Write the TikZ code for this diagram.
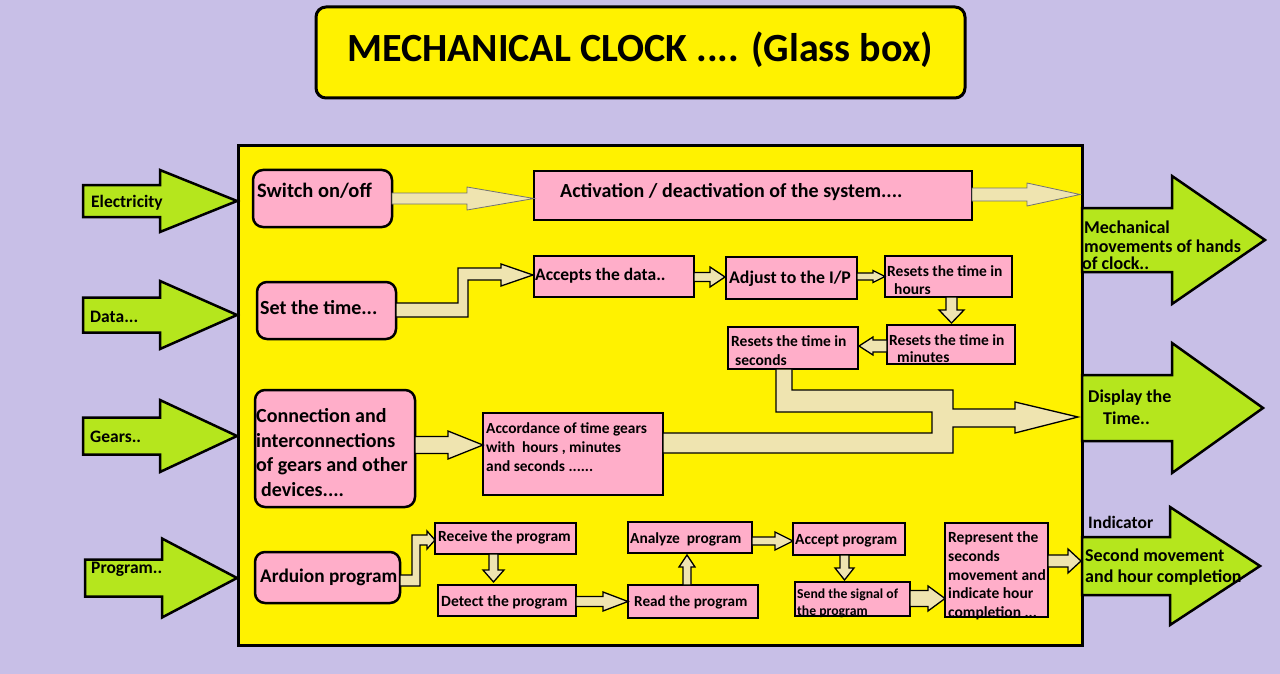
\documentclass[tikz,border=0pt]{standalone}
\usepackage{fontspec}
\setmainfont{Carlito}
\usetikzlibrary{fit}
\definecolor{lav}{HTML}{C8BFE7}
\definecolor{yel}{HTML}{FFF200}
\definecolor{pnk}{HTML}{FFAEC9}
\definecolor{grn}{HTML}{B5E61D}
\definecolor{bge}{HTML}{EFE4B0}
\newcommand\fsz[1]{\fontsize{#1}{#1}\selectfont\bfseries}
% horizontal block arrow: style, x0, xhead, xtip, yc, shaft half, head half
\newcommand\blkR[7]{\draw[#1] (#2,#5-#6) -- (#3,#5-#6) -- (#3,#5-#7) -- (#4,#5) -- (#3,#5+#7) -- (#3,#5+#6) -- (#2,#5+#6) -- cycle;}
% vertical block arrow: style, y0, yhead, ytip, xc, shaft half, head half
\newcommand\blkV[7]{\draw[#1] (#5-#6,#2) -- (#5-#6,#3) -- (#5-#7,#3) -- (#5,#4) -- (#5+#7,#3) -- (#5+#6,#3) -- (#5+#6,#2) -- cycle;}
\tikzset{
  pbox/.style={draw=black, line width=2.5pt, fill=pnk, inner sep=0pt},
  rbox/.style={pbox, rounded corners=10pt},
  garrow/.style={draw=black, line width=2.5pt, fill=grn, line join=miter},
  barrow/.style={draw=black, line width=1.3pt, fill=bge},
  tarrow/.style={draw=black!55, line width=0.8pt, fill=bge},
  lbl/.style={inner sep=0pt, anchor=base west, text=black},
}
\begin{document}
\begin{tikzpicture}[x=1pt,y=-1pt]
\useasboundingbox (0,0) rectangle (1280,674);
\fill[lav] (0,0) rectangle (1280,674);

% title
\node[draw=black, line width=3pt, fill=yel, rounded corners=10pt, inner sep=0pt,
      fit={(316,7) (965,98)}] (title) {};
\node[font=\fsz{40}, inner sep=0pt] (ttl) at (640,50) {MECHANICAL CLOCK .... (Glass box)};

% main glass box
\node[draw=black, line width=3pt, fill=yel, inner sep=0pt, fit={(238,146) (1082,645)}] (main) {};

% input arrows
\blkR{garrow}{83}{160}{237}{201}{16}{31}
\blkR{garrow}{83}{160}{237}{315}{17.5}{34}
\blkR{garrow}{83}{160}{237}{436}{18.5}{36}
\blkR{garrow}{85}{162}{237}{578}{18.5}{39.5}
% output arrows
\blkR{garrow}{1082}{1172}{1265}{240}{32}{64}
\blkR{garrow}{1082}{1172}{1263}{408}{33}{65}
\blkR{garrow}{1082}{1170}{1260}{566}{29}{59}

% boxes
\node[rbox, fit={(253,170) (392,227)}] (sw) {};
\node[pbox, fit={(534,171) (972,220)}] (act) {};
\node[rbox, fit={(257,282) (396,339)}] (set) {};
\node[pbox, fit={(534,256) (694,297)}] (acc) {};
\node[pbox, fit={(726,257) (857,299)}] (adj) {};
\node[pbox, fit={(885,256) (1012,297)}] (hrs) {};
\node[pbox, fit={(887,325) (1015,364)}] (mins) {};
\node[pbox, fit={(728,327) (858,369)}] (secs) {};
\node[rbox, fit={(255,390) (415,507)}] (conn) {};
\node[pbox, fit={(483,413) (663,495)}] (accd) {};
\node[rbox, fit={(255,552) (400,603)}] (ard) {};
\node[pbox, fit={(435,523) (576,554)}] (rcv) {};
\node[pbox, fit={(438,585) (576,616)}] (det) {};
\node[pbox, fit={(628,585) (758,618)}] (rd) {};
\node[pbox, fit={(628,522) (752,553)}] (anl) {};
\node[pbox, fit={(793,523) (905,555)}] (acp) {};
\node[pbox, fit={(795,582) (910,616)}] (snd) {};
\node[pbox, fit={(945,523) (1048,617)}] (rep) {};

% beige connectors
\blkR{tarrow}{392}{467}{534}{198.5}{5.5}{11.5}
\blkR{tarrow}{972}{1027}{1080}{194.5}{6.5}{11.5}
\draw[barrow] (396,303) -- (458,303) -- (458,268) -- (501,268) -- (501,264) -- (533,275)
  -- (501,286) -- (501,280) -- (468,280) -- (468,317) -- (396,317) -- cycle;
\blkR{barrow}{694}{710}{725}{277}{4.5}{10}
\blkR{barrow}{857}{873}{885}{276.5}{3.5}{6}
\blkV{barrow}{297}{310}{323}{951.5}{5.5}{12.5}
\blkR{barrow}{887}{873}{859}{346}{6}{9}
\draw[barrow] (776,369) -- (776,412) -- (932,412) -- (932,433) -- (663,433) -- (663,453)
  -- (953,453) -- (953,427) -- (1015,427) -- (1015,433) -- (1078,417) -- (1015,402)
  -- (1015,409) -- (953,409) -- (953,390) -- (792,390) -- (792,369) -- cycle;
\blkR{barrow}{415}{448}{483}{445}{8.5}{14}
\draw[barrow] (400,575) -- (412,575) -- (412,535) -- (427,535) -- (427,531) -- (435,540)
  -- (427,549) -- (427,545) -- (420,545) -- (420,586) -- (400,586) -- cycle;
\blkV{barrow}{554}{570}{582}{493.5}{4.5}{10.5}
\blkR{barrow}{576}{603}{628}{601.5}{5}{9.5}
\blkV{barrow}{585}{567}{555}{687}{4}{8}
\blkR{barrow}{752}{775}{793}{541}{4}{9}
\blkV{barrow}{555}{568}{580}{844.5}{4.5}{9.5}
\blkR{barrow}{910}{928}{945}{598.5}{8}{12.5}
\blkR{barrow}{1048}{1068}{1081}{561}{6}{12}

% labels: inputs
\node[lbl, font=\fsz{17.5}] (lel) at (91,207) {Electricity};
\node[lbl, font=\fsz{17.5}] (lda) at (90,322) {Data...};
\node[lbl, font=\fsz{17.5}] (lge) at (90,442) {Gears..};
\node[lbl, font=\fsz{17.5}] (lpr) at (91,573) {Program..};
% labels: outputs
\node[lbl, font=\fsz{18}] (lm1) at (1084,233) {Mechanical};
\node[lbl, font=\fsz{18}] (lm2) at (1084,252) {movements of hands};
\node[lbl, font=\fsz{18}] (lm3) at (1082,269) {of clock..};
\node[lbl, font=\fsz{18}] (ld1) at (1088,402) {Display the};
\node[lbl, font=\fsz{18}] (ld2) at (1103,424) {Time..};
\node[lbl, font=\fsz{17.5}] (li0) at (1088,528) {Indicator};
\node[lbl, font=\fsz{18}] (li1) at (1085,561) {Second movement};
\node[lbl, font=\fsz{18}] (li2) at (1085,582) {and hour completion};

% labels: inner boxes
\node[lbl, font=\fsz{20.5}] (tsw) at (257,197) {Switch on/off};
\node[lbl, font=\fsz{20}] (tact) at (560,197) {Activation / deactivation of the system....};
\node[lbl, font=\fsz{20}] (tset) at (260,314) {Set the time...};
\node[lbl, font=\fsz{17.5}] (tacc) at (535,280) {Accepts the data..};
\node[lbl, font=\fsz{17.8}] (tadj) at (729,283) {Adjust to the I/P};
\node[lbl, font=\fsz{15.5}] (th1) at (887,276) {Resets the time in};
\node[lbl, font=\fsz{15.5}] (th2) at (894,294) {hours};
\node[lbl, font=\fsz{15.5}] (tm1) at (889,345) {Resets the time in};
\node[lbl, font=\fsz{15.5}] (tm2) at (897,362) {minutes};
\node[lbl, font=\fsz{15.5}] (ts1) at (731,346) {Resets the time in};
\node[lbl, font=\fsz{15.5}] (ts2) at (735,365) {seconds};
\node[lbl, font=\fsz{20}] (tc1) at (256,422) {Connection and};
\node[lbl, font=\fsz{20}] (tc2) at (256,447) {interconnections};
\node[lbl, font=\fsz{20}] (tc3) at (256,471) {of gears and other};
\node[lbl, font=\fsz{20}] (tc4) at (261,496) {devices....};
\node[lbl, font=\fsz{15.4}] (ta1) at (486,433) {Accordance of time gears};
\node[lbl, font=\fsz{15.4}] (ta2) at (486,452) {with\ \ hours , minutes};
\node[lbl, font=\fsz{15.4}] (ta3) at (486,471) {and seconds ......};
\node[lbl, font=\fsz{19.3}] (tard) at (260,582) {Arduion program};
\node[lbl, font=\fsz{15.5}] (trcv) at (438,541) {Receive the program};
\node[lbl, font=\fsz{15.6}] (tdet) at (441,606) {Detect the program};
\node[lbl, font=\fsz{15.2}] (trd) at (634,606) {Read the program};
\node[lbl, font=\fsz{15.4}] (tanl) at (630,543) {Analyze\ \ program};
\node[lbl, font=\fsz{15.5}] (tacp) at (795,544) {Accept program};
\node[lbl, font=\fsz{13.7}] (tsn1) at (797,598) {Send the signal of};
\node[lbl, font=\fsz{13.7}] (tsn2) at (797,615) {the program};
\node[lbl, font=\fsz{15.5}] (tr1) at (948,542) {Represent the};
\node[lbl, font=\fsz{15.5}] (tr2) at (948,561) {seconds};
\node[lbl, font=\fsz{15.5}] (tr3) at (948,580) {movement and};
\node[lbl, font=\fsz{15.5}] (tr4) at (948,598) {indicate hour};
\node[lbl, font=\fsz{15.5}] (tr5) at (948,617) {completion ...};
\end{tikzpicture}
\end{document}
